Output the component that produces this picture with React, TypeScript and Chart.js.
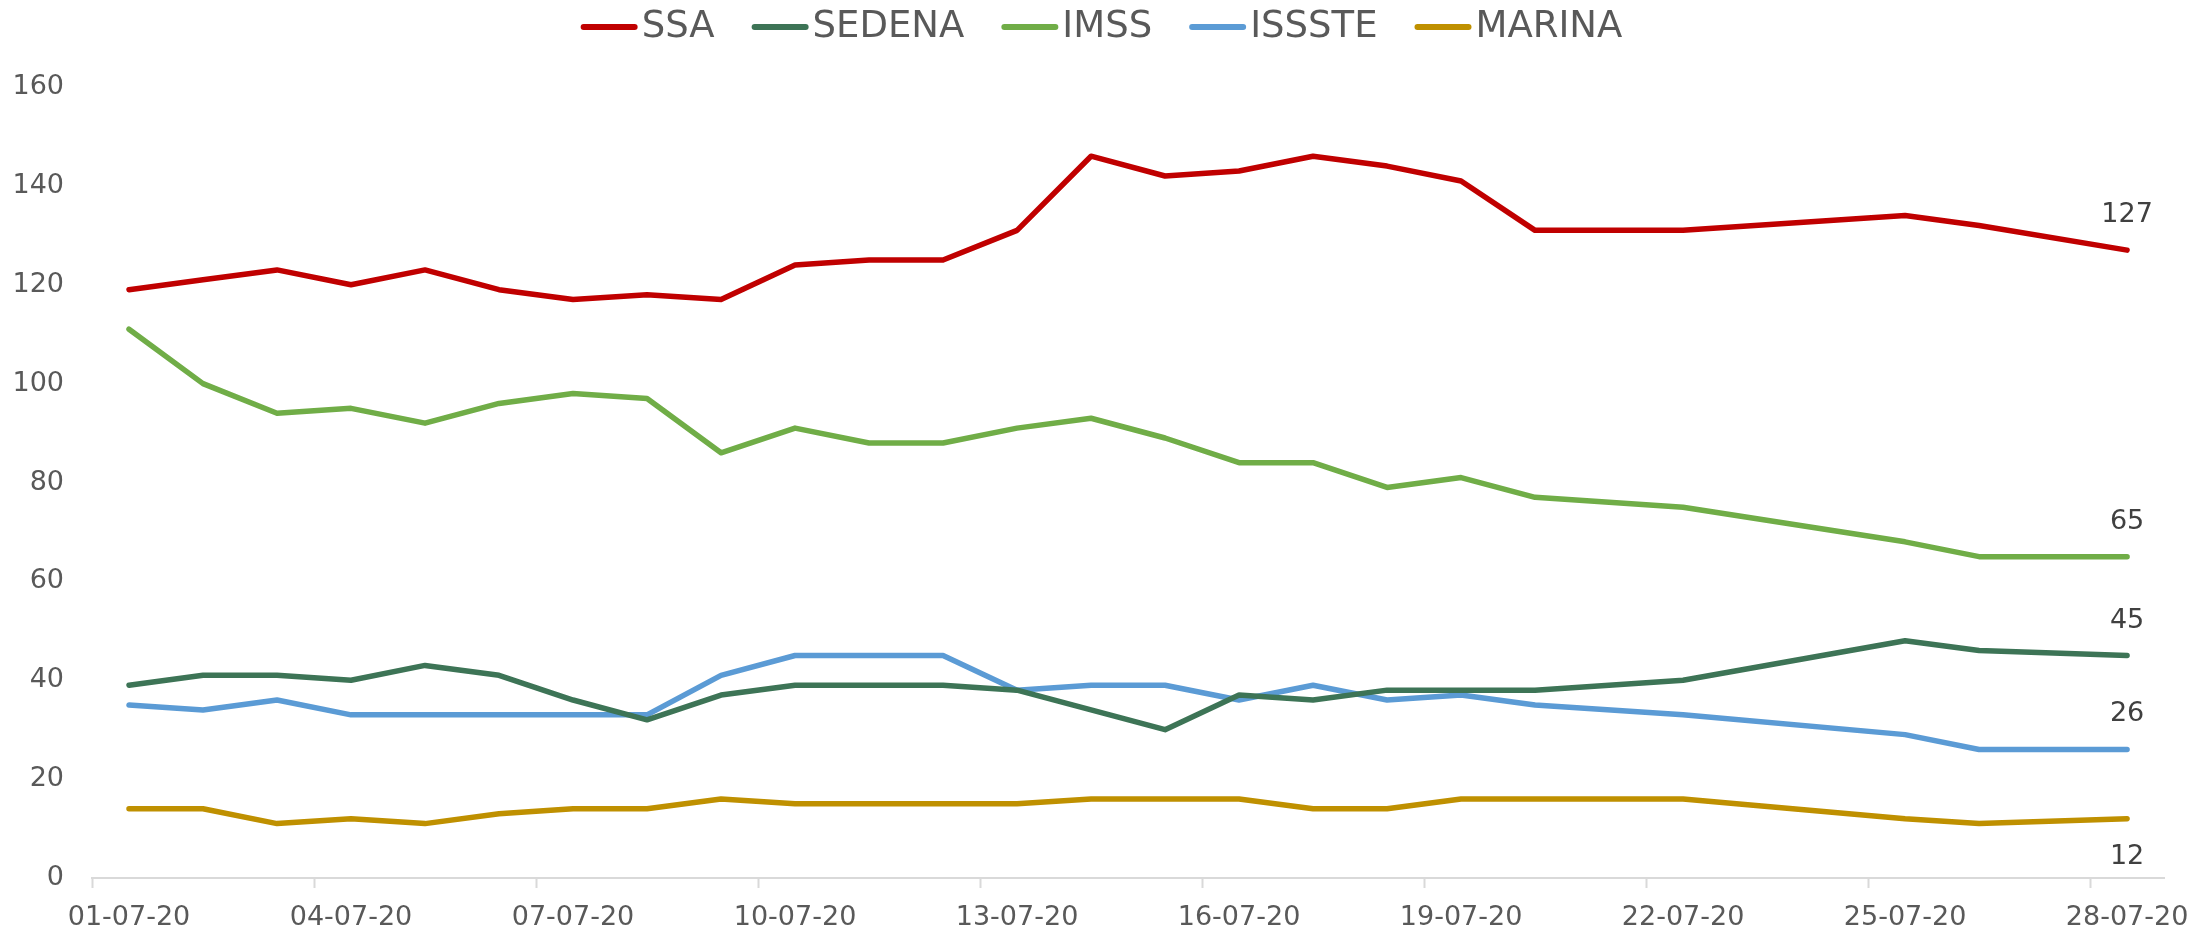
import React, { useEffect, useRef } from "react";
import { Chart, registerables } from "chart.js";

Chart.register(...registerables);

// ---- Data ----
const dates = [
  "01-07-20", "02-07-20", "03-07-20", "04-07-20", "05-07-20", "06-07-20", "07-07-20",
  "08-07-20", "09-07-20", "10-07-20", "11-07-20", "12-07-20", "13-07-20", "14-07-20",
  "15-07-20", "16-07-20", "17-07-20", "18-07-20", "19-07-20", "20-07-20", "21-07-20",
  "22-07-20", "23-07-20", "24-07-20", "25-07-20", "26-07-20", "27-07-20", "28-07-20",
];

const seriesNames = ["SSA", "SEDENA", "IMSS", "ISSSTE", "MARINA"];

const ssa = [119, 121, 123, 120, 123, 119, 117, 118, 117, 124, 125, 125, 131, 146, 142, 143, 146, 144, 141, 131, null, 131, null, null, 134, 132, null, 127];
const sedena = [39, 41, 41, 40, 43, 41, 36, 32, 37, 39, 39, 39, 38, 34, 30, 37, 36, 38, 38, 38, null, 40, null, null, 48, 46, null, 45];
const imss = [111, 100, 94, 95, 92, 96, 98, 97, 86, 91, 88, 88, 91, 93, 89, 84, 84, 79, 81, 77, null, 75, null, null, 68, 65, null, 65];
const issste = [35, 34, 36, 33, 33, 33, 33, 33, 41, 45, 45, 45, 38, 39, 39, 36, 39, 36, 37, 35, null, 33, null, null, 29, 26, null, 26];
const marina = [14, 14, 11, 12, 11, 13, 14, 14, 16, 15, 15, 15, 15, 16, 16, 16, 14, 14, 16, 16, null, 16, null, null, 12, 11, null, 12];

const yTicks = [0, 20, 40, 60, 80, 100, 120, 140, 160];

// ---- Styles ----
const FONT = '"DejaVu Sans", "Noto Sans", sans-serif';
const W = 2203;
const H = 932;
const colors = ["#C00000", "#3D7456", "#70AD47", "#5B9BD5", "#BF9000"];
const endLabelBelow = [false, false, false, false, true];

const legendPlugin = {
  id: "customLegend",
  afterDraw(chart: any) {
    const ctx = chart.ctx;
    ctx.save();
    ctx.font = `normal 37px ${FONT}`;
    const items = chart.data.datasets.map((ds: any) => ({
      label: ds.label,
      color: ds.borderColor,
      w: ctx.measureText(ds.label).width,
    }));
    const lineLen = 57;
    const gapText = 4;
    const gapItem = 37;
    const total =
      items.reduce((s: number, it: any) => s + lineLen + gapText + it.w, 0) +
      gapItem * (items.length - 1);
    let x = chart.width / 2 - total / 2;
    const y = 27;
    for (const it of items) {
      ctx.beginPath();
      ctx.strokeStyle = it.color;
      ctx.lineWidth = 6;
      ctx.lineCap = "round";
      ctx.moveTo(x + 3, y);
      ctx.lineTo(x + lineLen - 3, y);
      ctx.stroke();
      ctx.fillStyle = "#595959";
      ctx.textAlign = "left";
      ctx.textBaseline = "middle";
      ctx.fillText(it.label, x + lineLen + gapText, y);
      x += lineLen + gapText + it.w + gapItem;
    }
    ctx.restore();
  },
};

const endLabelPlugin = {
  id: "endLabels",
  afterDatasetsDraw(chart: any) {
    const ctx = chart.ctx;
    ctx.save();
    ctx.font = `normal 27px ${FONT}`;
    ctx.fillStyle = "#404040";
    ctx.textAlign = "center";
    ctx.textBaseline = "middle";
    chart.data.datasets.forEach((ds: any, i: number) => {
      const meta = chart.getDatasetMeta(i);
      const last = ds.data.length - 1;
      const pt = meta.data[last];
      if (!pt || ds.data[last] == null) return;
      const dy = endLabelBelow[i] ? 38 : -35;
      ctx.fillText(String(ds.data[last]), pt.x, pt.y + dy);
    });
    ctx.restore();
  },
};

export default function App() {
  const ref = useRef<HTMLCanvasElement>(null);

  useEffect(() => {
    const canvas = ref.current;
    if (!canvas) return;
    const values = [ssa, sedena, imss, issste, marina];
    const chart = new Chart(canvas, {
      type: "line",
      data: {
        labels: dates,
        datasets: seriesNames.map((name, i) => ({
          label: name,
          data: values[i],
          borderColor: colors[i],
          backgroundColor: colors[i],
          borderWidth: 5.5,
          borderCapStyle: "round",
          borderJoinStyle: "round",
          pointRadius: 0,
          pointHoverRadius: 0,
          tension: 0,
          spanGaps: true,
          fill: false,
        })),
      },
      options: {
        responsive: false,
        devicePixelRatio: 1,
        animation: false,
        events: [],
        layout: { padding: { top: 87, right: 36, bottom: 0, left: 12 } },
        plugins: {
          legend: { display: false },
          tooltip: { enabled: false },
          title: { display: false },
        },
        scales: {
          x: {
            type: "category",
            offset: true,
            grid: {
              display: true,
              offset: true,
              drawOnChartArea: false,
              drawTicks: true,
              tickLength: 10,
              tickWidth: 2,
              tickColor: (c: any) =>
                typeof c.index === "number" && c.index % 3 === 0 && c.index < dates.length
                  ? "#D9D9D9"
                  : "rgba(0,0,0,0)",
            },
            border: { display: true, color: "#D9D9D9", width: 2 },
            ticks: {
              autoSkip: false,
              maxRotation: 0,
              minRotation: 0,
              padding: 14,
              color: "#595959",
              font: { family: FONT, size: 27, weight: "normal" },
              callback: (_v: any, idx: number) => (idx % 3 === 0 ? dates[idx] : ""),
            },
            afterFit: (scale: any) => {
              scale.height = 54;
            },
          },
          y: {
            min: 0,
            max: 160,
            grid: { display: false, drawTicks: false },
            border: { display: false },
            afterBuildTicks: (scale: any) => {
              scale.ticks = yTicks.map((v) => ({ value: v }));
            },
            ticks: {
              padding: 28,
              color: "#595959",
              font: { family: FONT, size: 27, weight: "normal" },
            },
            afterFit: (scale: any) => {
              scale.width = 80;
            },
          },
        },
      },
      plugins: [legendPlugin, endLabelPlugin],
    } as any);
    return () => chart.destroy();
  }, []);

  return (
    <div style={{ position: "fixed", left: 0, top: 0, width: W, height: H, background: "#ffffff" }}>
      <canvas ref={ref} width={W} height={H} style={{ width: W, height: H, display: "block" }} />
    </div>
  );
}
